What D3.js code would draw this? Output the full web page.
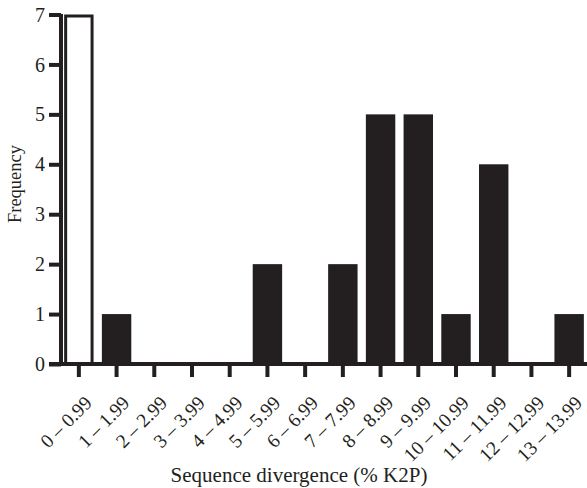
<!DOCTYPE html>
<html>
<head>
<meta charset="utf-8">
<script src="https://cdn.jsdelivr.net/npm/d3@7"></script>
<style>
  body { margin: 0; background: #fff; }
</style>
</head>
<body>
<div id="wrapper"></div>
<script>
// data
const categories = ['0 – 0.99', '1 – 1.99', '2 – 2.99', '3 – 3.99', '4 – 4.99', '5 – 5.99', '6 – 6.99',
  '7 – 7.99', '8 – 8.99', '9 – 9.99', '10 – 10.99', '11 – 11.99', '12 – 12.99', '13 – 13.99']
const frequency = [7, 1, 0, 0, 0, 2, 0, 2, 5, 5, 1, 4, 0, 1]
const openBars = ['0 – 0.99']   // drawn as outlined bar
const yTicks = [0, 1, 2, 3, 4, 5, 6, 7]

function drawChart() {
  const dims = {
    width: 587,
    height: 488,
    margin: { top: 14.5, right: 0, bottom: 124, left: 60 }
  }
  dims.boundedWidth = dims.width - dims.margin.left - dims.margin.right
  dims.boundedHeight = dims.height - dims.margin.top - dims.margin.bottom

  const ink = '#231f20'
  const serif = '"Liberation Serif", "Times New Roman", Times, serif'

  const svg = d3.select('#wrapper')
    .append('svg')
      .attr('width', dims.width)
      .attr('height', dims.height)
      .style('font-family', serif)

  const bounds = svg.append('g')
    .attr('transform', `translate(${dims.margin.left}, ${dims.margin.top})`)

  // scales
  const xScale = d3.scaleBand()
    .domain(categories)
    .range([0, 528])
    .paddingInner(0.22)
    .paddingOuter(0.11)

  const yScale = d3.scaleLinear()
    .domain([0, 7])
    .range([dims.boundedHeight, 0])

  // bars
  const data = categories.map((c, i) => ({ cat: c, value: frequency[i] }))
  const isOpen = d => openBars.includes(d.cat)
  bounds.selectAll('.bar')
    .data(data.filter(d => d.value > 0))
    .enter().append('rect')
      .attr('class', 'bar')
      .attr('x', d => isOpen(d) ? xScale(d.cat) + 1.5 : xScale(d.cat))
      .attr('y', d => isOpen(d) ? yScale(d.value) + 1.5 : yScale(d.value))
      .attr('width', d => isOpen(d) ? xScale.bandwidth() - 3 : xScale.bandwidth())
      .attr('height', d => isOpen(d) ? dims.boundedHeight - yScale(d.value) - 1.5 : dims.boundedHeight - yScale(d.value))
      .attr('fill', d => isOpen(d) ? '#fff' : ink)
      .attr('stroke', d => isOpen(d) ? ink : 'none')
      .attr('stroke-width', 3)

  // y axis
  const yAxis = bounds.append('g')
    .attr('transform', 'translate(1, 0)')
    .call(d3.axisLeft(yScale).tickValues(yTicks).tickFormat(d3.format('d'))
      .tickSize(12).tickSizeOuter(0).tickPadding(4))
  yAxis.attr('font-family', serif)
  yAxis.select('.domain').attr('stroke', ink).attr('stroke-width', 4)
    .attr('d', `M0,-0.5V${dims.boundedHeight + 2}`)
  yAxis.selectAll('.tick line').attr('stroke', ink).attr('stroke-width', 4)
  yAxis.selectAll('.tick text')
    .attr('fill', ink)
    .style('font-size', '20px')
    .attr('dy', '0.33em')

  // x axis
  const xAxis = bounds.append('g')
    .attr('transform', `translate(0, ${dims.boundedHeight})`)
    .call(d3.axisBottom(xScale).tickSize(13).tickSizeOuter(0).tickPadding(0))
  xAxis.attr('font-family', serif)
  xAxis.select('.domain').attr('stroke', ink).attr('stroke-width', 4)
    .attr('d', `M-11,0H${dims.boundedWidth}`)
  xAxis.selectAll('.tick line').attr('stroke', ink).attr('stroke-width', 4)
  xAxis.selectAll('.tick text')
    .attr('fill', ink)
    .style('font-size', '19.5px')
    .attr('text-anchor', 'end')
    .attr('dy', 0)
    .attr('transform', 'translate(5, 31) rotate(-45)')

  // axis titles
  svg.append('text')
    .attr('x', 299)
    .attr('y', 482)
    .attr('text-anchor', 'middle')
    .attr('fill', ink)
    .style('font-size', '21px')
    .text('Sequence divergence (% K2P)')

  svg.append('text')
    .attr('transform', 'translate(21, 184) rotate(-90)')
    .attr('text-anchor', 'middle')
    .attr('fill', ink)
    .style('font-size', '18.5px')
    .text('Frequency')
}
drawChart()
</script>
</body>
</html>
